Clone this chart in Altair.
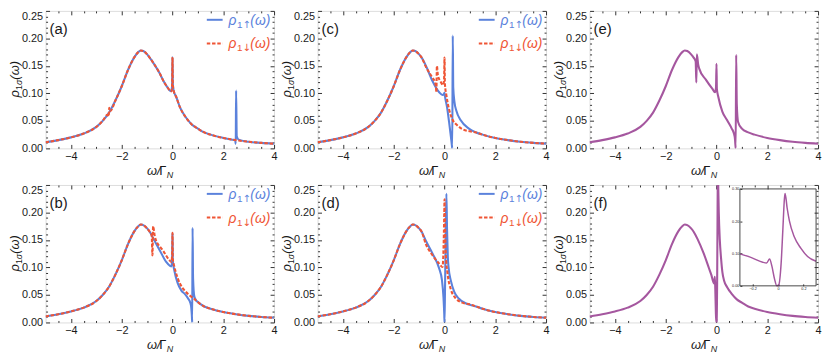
import altair as alt
import pandas as pd

# ---------------- data ----------------
# shared far-left tail and main resonance
TAIL_L_X = [-5.0, -4.5, -4.0, -3.5, -3.0, -2.75]
TAIL_L_Y = [0.011, 0.015, 0.020, 0.027, 0.039, 0.050]
PEAK_X = [-2.5, -2.25, -2.0, -1.75, -1.5, -1.35, -1.25, -1.15, -1.0, -0.9]
PEAK_Y = [0.065, 0.087, 0.113, 0.143, 0.166, 0.175, 0.178, 0.177, 0.171, 0.165]
TAIL_R_X = [1.25, 1.5, 2.0, 2.5, 3.0, 3.5, 4.0]
TAIL_R_Y = [0.029, 0.025, 0.019, 0.015, 0.012, 0.010, 0.0085]

# (a)
A_MID_X = [-0.75, -0.5, -0.35, -0.2, -0.1, -0.04, -0.015, 0.0, 0.012, 0.04, 0.15, 0.3, 0.5, 0.75, 1.0]
A_MID_Y = [0.155, 0.136, 0.122, 0.111, 0.105, 0.104, 0.117, 0.166, 0.118, 0.106, 0.093, 0.074, 0.058, 0.044, 0.036]
A_UP_TAIL_X = [1.25, 1.5, 2.0, 2.3, 2.47, 2.49, 2.505, 2.53, 2.6, 3.0, 3.5, 4.0]
A_UP_TAIL_Y = [0.029, 0.025, 0.019, 0.016, 0.0145, 0.008, 0.105, 0.022, 0.016, 0.012, 0.010, 0.0085]
A_DN_KINK_X = [-2.56, -2.515, -2.495, -2.45]
A_DN_KINK_Y = [0.061, 0.058, 0.074, 0.068]
# (b)
B_UP_MID_X = [-0.77, -0.5, -0.25, -0.1, -0.04, -0.015, 0.0, 0.012, 0.07, 0.2, 0.35, 0.5, 0.62, 0.7,
              0.74, 0.765, 0.775, 0.79, 0.81, 0.86, 0.92, 1.0]
B_UP_MID_Y = [0.154, 0.131, 0.110, 0.103, 0.102, 0.118, 0.163, 0.112, 0.095, 0.072, 0.058, 0.051, 0.043, 0.036,
              0.026, 0.010, 0.0, 0.172, 0.080, 0.047, 0.041, 0.037]
B_DN_MID_X = [-0.82, -0.79, -0.765, -0.7, -0.64, -0.5, -0.38, -0.12, -0.04, -0.015, 0.0, 0.012, 0.07, 0.2,
              0.39, 0.5, 0.65, 0.8, 1.0]
B_DN_MID_Y = [0.158, 0.122, 0.175, 0.157, 0.148, 0.138, 0.131, 0.113, 0.110, 0.125, 0.163, 0.115, 0.102, 0.081,
              0.063, 0.057, 0.050, 0.045, 0.037]
# (c)
C_UP_MID_X = [-0.73, -0.47, -0.21, -0.08, -0.02, 0.0, 0.02, 0.1, 0.18, 0.25, 0.29, 0.305, 0.325, 0.345,
              0.39, 0.47, 0.64, 0.96]
C_UP_MID_Y = [0.150, 0.122, 0.102, 0.097, 0.099, 0.101, 0.094, 0.075, 0.048, 0.022, 0.006, 0.0, 0.205, 0.110,
              0.085, 0.068, 0.051, 0.036]
C_DN_MID_X = [-0.73, -0.47, -0.38, -0.34, -0.32, -0.3, -0.26, -0.15, -0.05, -0.015, 0.0, 0.015, 0.08, 0.18,
              0.31, 0.5, 0.75, 1.0]
C_DN_MID_Y = [0.148, 0.128, 0.121, 0.113, 0.102, 0.150, 0.133, 0.121, 0.115, 0.128, 0.165, 0.118, 0.095, 0.071,
              0.053, 0.042, 0.034, 0.031]
# (d)
D_UP_MID_X = [-0.73, -0.47, -0.21, -0.1, -0.04, -0.01, 0.0, 0.02, 0.05, 0.075, 0.1, 0.13, 0.16, 0.25,
              0.38, 0.57, 0.83, 1.0]
D_UP_MID_Y = [0.148, 0.125, 0.098, 0.077, 0.045, 0.015, 0.0, 0.060, 0.170, 0.234, 0.170, 0.120, 0.100, 0.076,
              0.056, 0.043, 0.035, 0.032]
D_DN_MID_X = [-0.73, -0.47, -0.21, -0.08, -0.03, -0.01, 0.0, 0.02, 0.05, 0.12, 0.25, 0.44, 0.7, 1.0]
D_DN_MID_Y = [0.142, 0.122, 0.107, 0.101, 0.150, 0.200, 0.224, 0.180, 0.125, 0.089, 0.060, 0.044, 0.036, 0.033]
# (e)
E_MID_X = [-0.82, -0.795, -0.775, -0.72, -0.68, -0.42, -0.16, -0.06, -0.02, 0.0, 0.015, 0.07, 0.23, 0.42,
           0.6, 0.68, 0.73, 0.755, 0.775, 0.8, 0.85, 1.0]
E_MID_Y = [0.158, 0.120, 0.171, 0.152, 0.145, 0.125, 0.108, 0.102, 0.110, 0.154, 0.108, 0.094, 0.067, 0.051,
           0.036, 0.028, 0.016, 0.0, 0.170, 0.080, 0.048, 0.036]
# (f)
F_MID_X = [-0.75, -0.5, -0.3, -0.2, -0.12, -0.09, -0.066, -0.048, -0.027, -0.009, 0.006, 0.025, 0.038,
           0.051, 0.056, 0.072, 0.09, 0.129, 0.181, 0.233, 0.3, 0.42, 0.6, 0.8, 1.0]
F_MID_Y = [0.152, 0.125, 0.099, 0.086, 0.073, 0.071, 0.083, 0.061, 0.021, 0.0, 0.003, 0.071, 0.171,
           0.271, 0.286, 0.241, 0.201, 0.151, 0.116, 0.091, 0.076, 0.064, 0.052, 0.042, 0.036]

MAJOR_X = [-4, -2, 0, 2, 4]
MINOR_X = [-4.5, -3.5, -3.0, -2.5, -1.5, -1.0, -0.5, 0.5, 1.0, 1.5, 2.5, 3.0, 3.5]
MAJOR_Y = [0.0, 0.05, 0.10, 0.15, 0.20, 0.25]
MINOR_Y = [0.01, 0.02, 0.03, 0.04, 0.06, 0.07, 0.08, 0.09, 0.11, 0.12, 0.13, 0.14,
           0.16, 0.17, 0.18, 0.19, 0.21, 0.22, 0.23, 0.24]
INSET_X_DOM = [-0.3, 0.3]
INSET_Y_DOM = [0.0, 0.3]
INSET_X_TICKS = [-0.2, 0.0, 0.2]
INSET_Y_TICKS = [0.0, 0.05, 0.10, 0.15, 0.20, 0.25, 0.30]

# ---------------- style ----------------
FONT = "Liberation Sans"
ARROW_FONT = "DejaVu Sans"
BLUE = "#5B82DC"
RED = "#EF5535"
PURPLE = "#A5579F"
FRAME = "#333333"
LABEL = "#1a1a1a"
W, H = 231, 139
ONE = pd.DataFrame({"k": [0]})


def series(*parts):
    xs, ys = [], []
    for px, py in parts:
        xs += list(px)
        ys += list(py)
    return pd.DataFrame({"x": xs, "y": ys})


XS = alt.Scale(domain=[-5, 4], nice=False, zero=False)
YS = alt.Scale(domain=[0, 0.25], nice=False, zero=False)
TOP_BASE = {"condition": {"test": "datum.value > 0.249", "value": "top"}, "value": "middle"}


def axis(orient, values, size, labels, fmt=None, **kw):
    d = dict(orient=orient, values=values, tickSize=size, offset=-size, domain=False, grid=False,
             title=None, labels=labels, ticks=True, tickColor=FRAME, tickWidth=1)
    if labels:
        d.update(labelFont=FONT, labelFontSize=11, labelColor=LABEL, format=fmt)
    d.update(kw)
    return alt.Axis(**d)


def frame_axes(df):
    base = alt.Chart(df).mark_line(opacity=0)
    specs = [
        (axis("bottom", MAJOR_X, 4, True, "d", labelFlush=False, labelPadding=2),
         axis("left", MAJOR_Y, 4, True, ".2f", labelPadding=3, labelBaseline=TOP_BASE)),
        (axis("top", MAJOR_X, 4, False), axis("right", MAJOR_Y, 4, False)),
        (axis("bottom", MINOR_X, 2, False), axis("left", MINOR_Y, 2, False)),
        (axis("top", MINOR_X, 2, False), axis("right", MINOR_Y, 2, False)),
    ]
    return [base.encode(x=alt.X("x:Q", scale=XS, axis=ax), y=alt.Y("y:Q", scale=YS, axis=ay))
            for ax, ay in specs]


def line(df, color, dash=None, width=2.1):
    kw = dict(color=color, strokeWidth=width, clip=True, interpolate="monotone")
    if dash:
        kw["strokeDash"] = dash
    return alt.Chart(df).mark_line(**kw).encode(
        x=alt.X("x:Q", scale=XS, axis=None), y=alt.Y("y:Q", scale=YS, axis=None))


def text(s, x, y, size, color=LABEL, italic=False, dx=0, dy=0, angle=0, baseline="alphabetic", font=FONT):
    return alt.Chart(ONE).mark_text(
        text=s, font=font, fontSize=size, fontStyle="italic" if italic else "normal", color=color,
        align="left", baseline=baseline, dx=dx, dy=dy, angle=angle,
    ).encode(x=alt.value(x), y=alt.value(y))


def legend_entry(y, color, arrow, dash=None):
    kw = dict(color=color, strokeWidth=2)
    if dash:
        kw["strokeDash"] = dash
    sample = alt.Chart(ONE).mark_rule(**kw).encode(x=alt.value(163), x2=alt.value(179), y=alt.value(y))
    ty = y + 5
    tx = 185
    return [sample,
            text("ρ", tx, ty, 14, color, italic=True),
            text("1", tx, ty, 10, color, dx=8.5, dy=3),
            text(arrow, tx, ty, 10, color, dx=14.2, dy=3, font=ARROW_FONT),
            text("(ω)", tx, ty, 14, color, italic=True, dx=22)]


def panel(letter, curves, legend=True):
    layers = frame_axes(curves[0][0])
    for df, color, dash in curves:
        layers.append(line(df, color, dash))
    layers.append(text("(" + letter + ")", 4, 23, 15))
    yc = H / 2 + 18
    tx = -27
    layers += [text("ρ", tx, yc, 13, italic=True, angle=270),
               text("1", tx, yc, 9, angle=270, dx=7.5, dy=3),
               text("σ", tx, yc, 9, italic=True, angle=270, dx=12.5, dy=3),
               text("(ω)", tx, yc, 13, italic=True, angle=270, dx=18)]
    xc = W / 2 - 13
    layers += [text("ω/", xc, H + 27, 13, italic=True),
               text("Γ", xc, H + 27, 13, dx=12.5),
               text("N", xc, H + 27, 9, italic=True, dx=20, dy=3)]
    if legend:
        layers += legend_entry(9, BLUE, "↑")
        layers += legend_entry(33, RED, "↓", dash=DASH)
    return alt.layer(*layers).resolve_axis(x="independent", y="independent")


DASH = [3.5, 1.8]
a_up = series((TAIL_L_X, TAIL_L_Y), (PEAK_X, PEAK_Y), (A_MID_X, A_MID_Y), (A_UP_TAIL_X, A_UP_TAIL_Y))
a_dn = series((TAIL_L_X, TAIL_L_Y), (A_DN_KINK_X, A_DN_KINK_Y), (PEAK_X[1:], PEAK_Y[1:]),
              (A_MID_X, A_MID_Y), (TAIL_R_X, TAIL_R_Y))
b_up = series((TAIL_L_X, TAIL_L_Y), (PEAK_X, PEAK_Y), (B_UP_MID_X, B_UP_MID_Y), (TAIL_R_X, TAIL_R_Y))
b_dn = series((TAIL_L_X, TAIL_L_Y), (PEAK_X, PEAK_Y), (B_DN_MID_X, B_DN_MID_Y), (TAIL_R_X, TAIL_R_Y))
c_up = series((TAIL_L_X, TAIL_L_Y), (PEAK_X, PEAK_Y), (C_UP_MID_X, C_UP_MID_Y), (TAIL_R_X, TAIL_R_Y))
c_dn = series((TAIL_L_X, TAIL_L_Y), (PEAK_X, PEAK_Y), (C_DN_MID_X, C_DN_MID_Y), (TAIL_R_X, TAIL_R_Y))
d_up = series((TAIL_L_X, TAIL_L_Y), (PEAK_X, PEAK_Y), (D_UP_MID_X, D_UP_MID_Y), (TAIL_R_X, TAIL_R_Y))
d_dn = series((TAIL_L_X, TAIL_L_Y), (PEAK_X, PEAK_Y), (D_DN_MID_X, D_DN_MID_Y), (TAIL_R_X, TAIL_R_Y))
e_all = series((TAIL_L_X, TAIL_L_Y), (PEAK_X, PEAK_Y), (E_MID_X, E_MID_Y), (TAIL_R_X, TAIL_R_Y))
f_all = series((TAIL_L_X, TAIL_L_Y), (PEAK_X, PEAK_Y), (F_MID_X, F_MID_Y), (TAIL_R_X, TAIL_R_Y))
f_zoom = f_all[(f_all.x >= INSET_X_DOM[0]) & (f_all.x <= INSET_X_DOM[1])]

pa = panel("a", [(a_up, BLUE, None), (a_dn, RED, DASH)]).properties(width=W, height=H)
pb = panel("b", [(b_up, BLUE, None), (b_dn, RED, DASH)]).properties(width=W, height=H)
pc = panel("c", [(c_up, BLUE, None), (c_dn, RED, DASH)]).properties(width=W, height=H)
pd_ = panel("d", [(d_up, BLUE, None), (d_dn, RED, DASH)]).properties(width=W, height=H)
pe = panel("e", [(e_all, PURPLE, None)], legend=False).properties(width=W, height=H)
main_f = panel("f", [(f_all, PURPLE, None)], legend=False)

IXS = alt.Scale(domain=INSET_X_DOM, range=[152, 229], nice=False, zero=False)
IYS = alt.Scale(domain=INSET_Y_DOM, range=[102, 4], nice=False, zero=False)
inset_line = alt.Chart(f_zoom).mark_line(color=PURPLE, strokeWidth=1.5, clip=True,
                                         interpolate="monotone").encode(
    x=alt.X("x:Q", scale=IXS, axis=alt.Axis(
        orient="bottom", offset=-(H - 100), values=INSET_X_TICKS, format="~g", tickSize=2, domain=False,
        grid=False, title=None, labelFontSize=3.8, labelFont=FONT, labelColor=LABEL, labelPadding=1,
        labelFlush=False, tickColor=FRAME)),
    y=alt.Y("y:Q", scale=IYS, axis=alt.Axis(
        orient="left", offset=-154, values=INSET_Y_TICKS, format=".2f", tickSize=2, domain=False,
        grid=False, title=None, labelFontSize=3.8, labelFont=FONT, labelColor=LABEL, labelPadding=1,
        tickColor=FRAME)),
)
inset_frame = alt.Chart(ONE).mark_rect(filled=False, stroke=FRAME, strokeWidth=0.9).encode(
    x=alt.datum(INSET_X_DOM[0]), x2=alt.datum(INSET_X_DOM[1]),
    y=alt.datum(INSET_Y_DOM[0]), y2=alt.datum(INSET_Y_DOM[1]),
)
inset = alt.layer(inset_line, inset_frame)
pf = alt.layer(main_f, inset).resolve_scale(x="independent", y="independent").properties(width=W, height=H)

chart = (
    alt.concat(pa, pc, pe, pb, pd_, pf, columns=3, spacing={"row": 37, "column": 44}, bounds="flush")
    .properties(padding=0, background="white")
    .configure_view(stroke=FRAME, strokeWidth=1)
    .configure(font=FONT)
)
chart.save("out.html", embed_options={"renderer": "svg", "actions": False})
